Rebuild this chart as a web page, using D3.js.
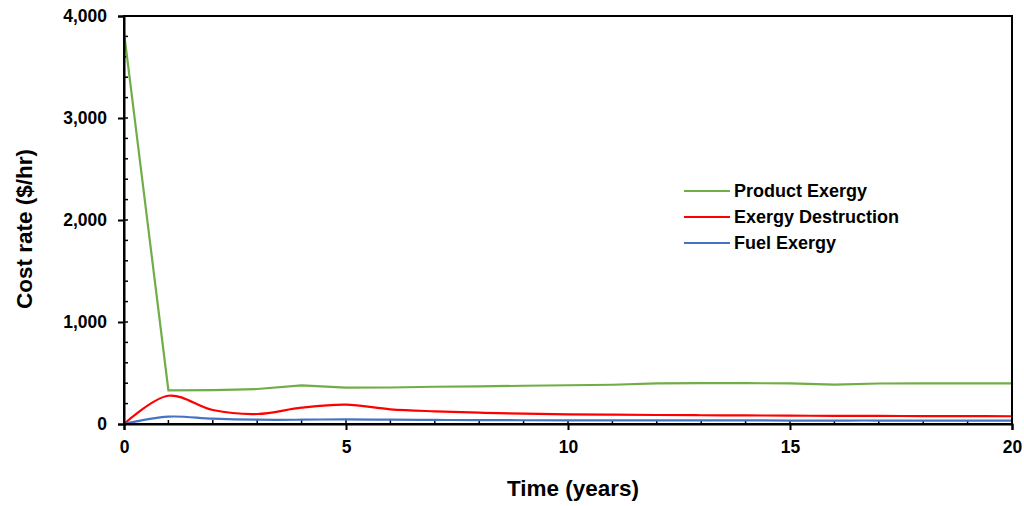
<!DOCTYPE html>
<html>
<head>
<meta charset="utf-8">
<script src="https://cdn.jsdelivr.net/npm/d3@7"></script>
<style>
  html, body { margin: 0; padding: 0; background: #fff; }
  svg { display: block; font-family: "Liberation Sans", Arial, sans-serif; }
</style>
</head>
<body>
<svg id="chart" width="1024" height="506"></svg>
<script>
// Time axis (years)
const years = d3.range(0, 21);

// Cost rates ($/hr) per year
const productExergy = [3840, 330, 333, 343, 378, 357, 358, 365, 368, 375, 380, 385, 398, 400, 400, 399, 386, 397, 398, 398, 398];
const exergyDestruction = [0, 277, 137, 98, 160, 189, 144, 124, 111, 101, 95, 91, 88, 86, 84, 82, 80, 79, 78, 77, 76];
const fuelExergy = [0, 72, 52, 42, 42, 46, 42, 40, 38, 37, 36, 36, 35, 35, 35, 34, 34, 34, 33, 33, 33];

const seriesNames = ["Product Exergy", "Exergy Destruction", "Fuel Exergy"];
const seriesColors = ["#70AD47", "#FF0000", "#4472C4"];
const seriesValues = [productExergy, exergyDestruction, fuelExergy];
// Product exergy is drawn with straight segments, the others smoothed
const seriesCurves = [d3.curveLinear, d3.curveCatmullRom, d3.curveCatmullRom];

const xMajorTicks = [0, 5, 10, 15, 20];
const yMajorTicks = [0, 1000, 2000, 3000, 4000];

const svg = d3.select("#chart");
const plotLeft = 124, plotRight = 1012, plotTop = 16, plotBottom = 424;

const x = d3.scaleLinear().domain([0, 20]).range([plotLeft, plotRight]);
const y = d3.scaleLinear().domain([0, 4000]).range([plotBottom, plotTop]);

// Minor ticks (inside the plot)
const g = svg.append("g");
g.selectAll(".xminor").data(d3.range(1, 20)).join("line")
  .attr("x1", d => x(d)).attr("x2", d => x(d))
  .attr("y1", plotBottom).attr("y2", plotBottom - 4)
  .attr("stroke", "#000").attr("stroke-width", 1.5);
g.selectAll(".yminor").data(d3.range(200, 4000, 200)).join("line")
  .attr("x1", plotLeft).attr("x2", plotLeft + 4)
  .attr("y1", d => y(d)).attr("y2", d => y(d))
  .attr("stroke", "#000").attr("stroke-width", 1.5);

// Series lines
seriesValues.forEach((vals, k) => {
  const line = d3.line()
    .x((d, i) => x(years[i]))
    .y(d => y(d))
    .curve(seriesCurves[k]);
  svg.append("path")
    .datum(vals)
    .attr("d", line)
    .attr("fill", "none")
    .attr("stroke", seriesColors[k])
    .attr("stroke-width", 2.2);
});

// Frame
svg.append("rect")
  .attr("x", plotLeft).attr("y", plotTop)
  .attr("width", plotRight - plotLeft).attr("height", plotBottom - plotTop)
  .attr("fill", "none").attr("stroke", "#000").attr("stroke-width", 2);

// Axes with outside major ticks
const xAxis = d3.axisBottom(x).tickValues(xMajorTicks).tickSize(6)
  .tickFormat(d3.format("d"));
const yAxis = d3.axisLeft(y).tickValues(yMajorTicks).tickSize(6).tickPadding(11)
  .tickFormat(d3.format(","));

const gx = svg.append("g").attr("transform", `translate(0,${plotBottom})`).call(xAxis);
const gy = svg.append("g").attr("transform", `translate(${plotLeft},0)`).call(yAxis);
[gx, gy].forEach(a => {
  a.select(".domain").attr("stroke", "#000").attr("stroke-width", 2);
  a.selectAll(".tick line").attr("stroke", "#000").attr("stroke-width", 2);
  a.selectAll(".tick text")
    .attr("fill", "#000")
    .style("font-family", "'Liberation Sans', Arial, sans-serif")
    .style("font-size", "17.5px")
    .style("font-weight", "bold");
});
gx.selectAll(".tick text").attr("y", 29).attr("dy", 0);

// Axis titles
svg.append("text")
  .attr("x", 573).attr("y", 496)
  .attr("text-anchor", "middle")
  .style("font-size", "22.5px").style("font-weight", "bold")
  .text("Time (years)");

svg.append("text")
  .attr("transform", `translate(32,229) rotate(-90)`)
  .attr("text-anchor", "middle")
  .style("font-size", "22.5px").style("font-weight", "bold")
  .text("Cost rate ($/hr)");

// Legend
const legend = svg.append("g").attr("transform", "translate(684,191)");
seriesNames.forEach((name, k) => {
  const row = legend.append("g").attr("transform", `translate(0,${k * 26})`);
  row.append("line")
    .attr("x1", 0).attr("x2", 46).attr("y1", 0).attr("y2", 0)
    .attr("stroke", seriesColors[k]).attr("stroke-width", 2.2);
  row.append("text")
    .attr("x", 50).attr("y", 0).attr("dy", "0.36em")
    .style("font-size", "18px").style("font-weight", "bold")
    .text(name);
});
</script>
</body>
</html>
